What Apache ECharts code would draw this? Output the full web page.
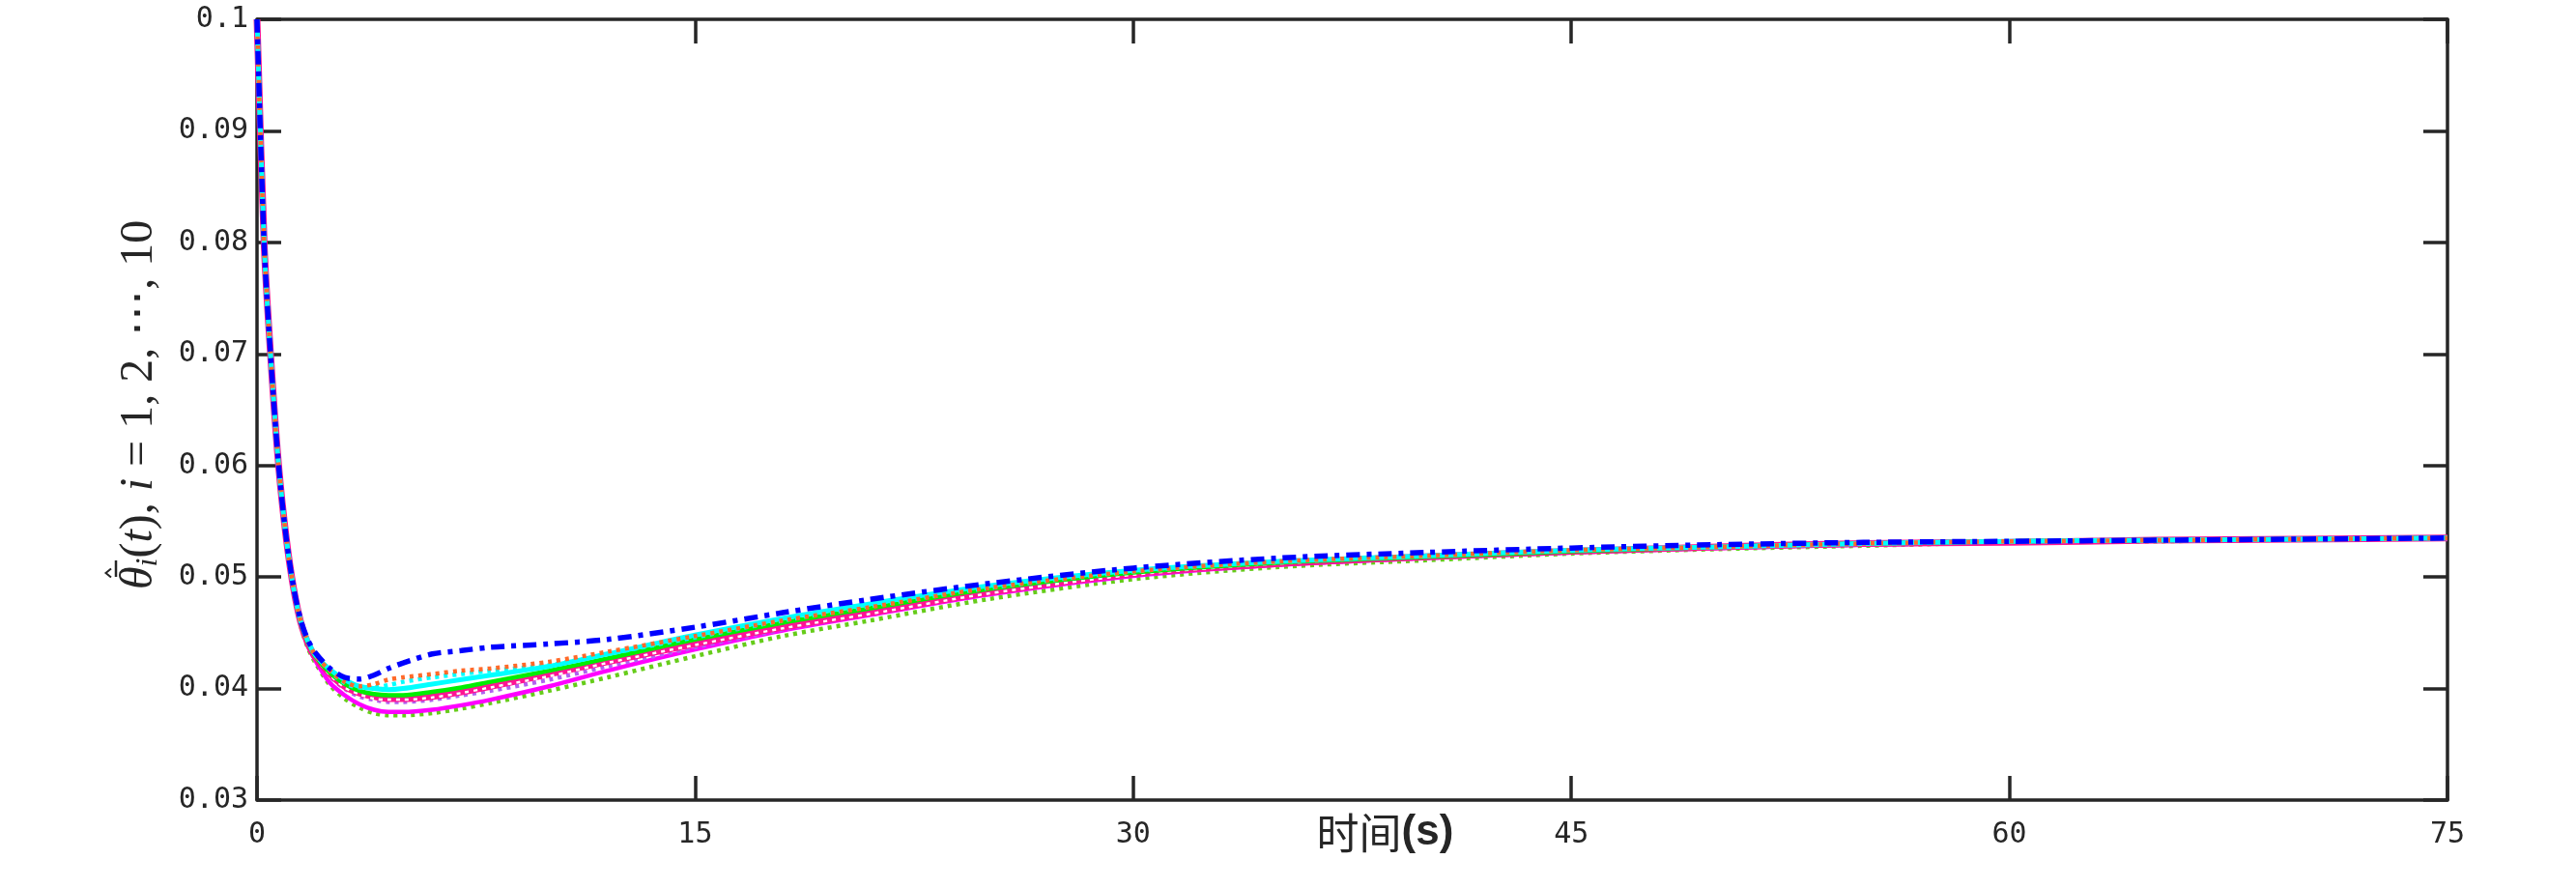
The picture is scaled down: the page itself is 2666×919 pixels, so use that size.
<!DOCTYPE html>
<html>
<head>
<meta charset="utf-8">
<script src="https://cdn.jsdelivr.net/npm/echarts@6/dist/echarts.min.js"></script>
<style>html,body{margin:0;padding:0;background:#fff}#c{width:2666px;height:919px}</style>
</head>
<body>
<div id="c"></div>
<script>
// time samples (s)
var t = [0, 0.25, 0.5, 0.75, 1, 1.25, 1.5, 1.75, 2, 2.5, 3, 3.5, 4, 4.5, 5, 6, 7, 8, 10, 12, 15, 18, 21, 25, 30, 35, 40, 45, 50, 55, 60, 65, 70, 75];
var xTicks = [0, 15, 30, 45, 60, 75];
var yTicks = [0.03, 0.04, 0.05, 0.06, 0.07, 0.08, 0.09, 0.1];

var blueDashDot = [0.1, 0.0795, 0.0685, 0.0597, 0.0535, 0.0491, 0.0461, 0.0443, 0.0432, 0.0418, 0.0410, 0.04085, 0.0412, 0.0418, 0.0423, 0.0431, 0.0434, 0.0437, 0.0440, 0.0444, 0.0455, 0.0468, 0.0480, 0.0494, 0.0508, 0.0517, 0.0522, 0.0526, 0.0529, 0.0531, 0.0532, 0.0533, 0.0534, 0.0535];
var orangeDot   = [0.1, 0.0795, 0.0685, 0.0597, 0.0535, 0.0490, 0.0460, 0.0442, 0.0430, 0.0416, 0.0406, 0.0402, 0.0404, 0.0408, 0.0410, 0.0413, 0.0416, 0.0418, 0.0424, 0.0433, 0.0447, 0.0461, 0.0473, 0.0490, 0.0505, 0.0514, 0.0519, 0.0524, 0.0527, 0.0530, 0.0532, 0.0533, 0.0534, 0.0535];
var cyanDot     = [0.1, 0.0795, 0.0685, 0.0597, 0.0535, 0.0490, 0.0460, 0.0442, 0.0430, 0.0416, 0.0405, 0.0401, 0.0401, 0.0403, 0.0406, 0.0410, 0.0413, 0.0416, 0.0421, 0.0431, 0.0446, 0.0461, 0.0474, 0.0490, 0.0505, 0.0514, 0.0519, 0.0524, 0.0527, 0.0530, 0.0532, 0.0533, 0.0534, 0.0535];
var cyanSolid   = [0.1, 0.0795, 0.0685, 0.0597, 0.0535, 0.0490, 0.0460, 0.0442, 0.0430, 0.0417, 0.0408, 0.0402, 0.0400, 0.0399, 0.0400, 0.0404, 0.0408, 0.0412, 0.0420, 0.0431, 0.0448, 0.0463, 0.0476, 0.0492, 0.0506, 0.0514, 0.0519, 0.0524, 0.0527, 0.0530, 0.0532, 0.0533, 0.0534, 0.0535];
var greenSolid  = [0.1, 0.0795, 0.0685, 0.0597, 0.0535, 0.0490, 0.0459, 0.0441, 0.0429, 0.0414, 0.0404, 0.0398, 0.0395, 0.0394, 0.0394, 0.0397, 0.0401, 0.0406, 0.0416, 0.0427, 0.0444, 0.0459, 0.0472, 0.0489, 0.0504, 0.0513, 0.0518, 0.0523, 0.0527, 0.0530, 0.0532, 0.0533, 0.0534, 0.0535];
var pinkSolid   = [0.1, 0.0795, 0.0685, 0.0597, 0.0535, 0.0490, 0.0459, 0.0440, 0.0428, 0.0413, 0.0402, 0.0396, 0.0393, 0.0391, 0.0391, 0.0393, 0.0397, 0.0402, 0.0413, 0.0424, 0.0440, 0.0455, 0.0468, 0.0486, 0.0503, 0.0512, 0.0518, 0.0523, 0.0527, 0.0530, 0.0531, 0.0533, 0.0534, 0.0535];
var whiteDot    = [0.1, 0.0795, 0.0685, 0.0597, 0.0535, 0.0490, 0.0459, 0.0440, 0.0428, 0.0412, 0.0401, 0.0395, 0.0391, 0.0390, 0.0390, 0.0392, 0.0396, 0.0401, 0.0411, 0.0423, 0.0439, 0.0454, 0.0467, 0.0485, 0.0502, 0.0512, 0.0518, 0.0523, 0.0527, 0.0530, 0.0531, 0.0533, 0.0534, 0.0535];
var purpleDot   = [0.1, 0.0795, 0.0685, 0.0597, 0.0535, 0.0490, 0.0459, 0.0439, 0.0427, 0.0411, 0.0400, 0.0393, 0.0390, 0.0388, 0.0388, 0.0390, 0.0394, 0.0398, 0.0408, 0.0420, 0.0437, 0.0453, 0.0467, 0.0485, 0.0502, 0.0511, 0.0517, 0.0522, 0.0526, 0.0529, 0.0531, 0.0533, 0.0534, 0.0535];
var magentaSolid= [0.1, 0.0795, 0.0685, 0.0597, 0.0535, 0.0489, 0.0457, 0.0438, 0.0425, 0.0405, 0.0394, 0.0386, 0.0381, 0.0379, 0.0379, 0.0381, 0.0385, 0.0390, 0.0402, 0.0416, 0.0435, 0.0452, 0.0466, 0.0484, 0.0501, 0.0511, 0.0517, 0.0522, 0.0526, 0.0529, 0.0531, 0.0533, 0.0534, 0.0535];
var ygDot       = [0.1, 0.0795, 0.0685, 0.0597, 0.0535, 0.0489, 0.0456, 0.0436, 0.0423, 0.0403, 0.0391, 0.0383, 0.0378, 0.0376, 0.0376, 0.0378, 0.0382, 0.0387, 0.0398, 0.0410, 0.0429, 0.0447, 0.0461, 0.0480, 0.0498, 0.0509, 0.0515, 0.0521, 0.0525, 0.0528, 0.0531, 0.0532, 0.0534, 0.0535];

function pts(arr){ return t.map(function(x,i){ return [x, arr[i]]; }); }
function mk(data, color, width, type){
  return { type:'line', data: pts(data), showSymbol:false, smooth:0.3,
    lineStyle:{ color:color, width:width, type:type, cap:'butt' }, emphasis:{disabled:true}, z:2 };
}
var axisColor = '#262626';
var tickFont = { fontFamily:'DejaVu Sans Mono', fontSize:30, color:axisColor };
function axisBase(){
  return {
    axisLine:{ show:true, onZero:false, lineStyle:{ color:axisColor, width:3.5 } },
    axisTick:{ show:true, inside:true, length:25, lineStyle:{ color:axisColor, width:3.5 } },
    splitLine:{ show:false }
  };
}
var yFont = 48;
var yLabelText = '{it|θ}{sub|i}{rm|(}{it|t}{rm|), }{it|i}{rm| = 1, 2, ⋯, 10}';

var chart = echarts.init(document.getElementById('c'), null, {renderer:'canvas'});
chart.setOption({
  animation:false,
  backgroundColor:'#fff',
  grid:{ left:266, right:133, top:20, bottom:91, containLabel:false },
  xAxis:[Object.assign(axisBase(), {
    type:'value', min:0, max:75, interval:15, position:'bottom',
    axisLabel:{ show:true, margin:21, fontFamily:tickFont.fontFamily, fontSize:tickFont.fontSize, color:axisColor, customValues: xTicks },
    name:'{a|时间}{b|(s)}', nameLocation:'middle', nameGap:12, nameMoveOverlap:false,
    nameTextStyle:{ padding:[0,0,0,68], verticalAlign:'top', rich:{
      a:{ fontFamily:'Noto Sans CJK SC', fontSize:44, color:axisColor },
      b:{ fontFamily:'Liberation Sans', fontWeight:'bold', fontSize:44, color:axisColor } } }
  }), Object.assign(axisBase(), {
    type:'value', min:0, max:75, interval:15, position:'top',
    axisLabel:{ show:false }
  })],
  yAxis:[Object.assign(axisBase(), {
    type:'value', min:0.03, max:0.1, interval:0.01, position:'left',
    axisLabel:{ show:true, margin:9, fontFamily:tickFont.fontFamily, fontSize:tickFont.fontSize, color:axisColor,
      customValues: yTicks,
      formatter:function(v){ return String(parseFloat(Number(v).toFixed(2))); } }
  }), Object.assign(axisBase(), {
    type:'value', min:0.03, max:0.1, interval:0.01, position:'right',
    axisLabel:{ show:false }
  })],
  graphic:[{
    type:'group', x:170, y:610, rotation:Math.PI/2, silent:true,
    children:[
      { type:'text', x:0, y:0, style:{ text:yLabelText, align:'left', verticalAlign:'bottom',
          rich:{
            it:{ fontFamily:'Liberation Serif', fontStyle:'italic', fontSize:yFont, fill:axisColor },
            rm:{ fontFamily:'Liberation Serif', fontSize:yFont, fill:axisColor },
            sub:{ fontFamily:'Liberation Serif', fontStyle:'italic', fontSize:32, fill:axisColor, verticalAlign:'bottom', padding:[20,0,0,0] }
          } } },
      { type:'line', shape:{ x1:13, y1:-50, x2:30, y2:-50 }, style:{ stroke:axisColor, lineWidth:2.5 } },
      { type:'polyline', shape:{ points:[[12.5,-55],[17,-60.5],[21.5,-55]] }, style:{ stroke:axisColor, lineWidth:2, fill:null } }
    ]
  }],
  series:[
    mk(ygDot, '#66CC1A', 4.5, [4,5]),
    mk(magentaSolid, '#FF00FF', 4.5, 'solid'),
    mk(purpleDot, '#B060F0', 4.5, [4,5]),
    mk(pinkSolid, '#FF1493', 7, 'solid'),
    mk(whiteDot, '#FFFFFF', 2.5, [4,5]),
    mk(greenSolid, '#00EE00', 4.5, 'solid'),
    mk(cyanSolid, '#00FFFF', 5, 'solid'),
    mk(cyanDot, '#00FFFF', 4.5, [4,5]),
    mk(orangeDot, '#FF6A2A', 4.5, [4,5]),
    mk(blueDashDot, '#0000FF', 5.5, [14,7,5,7])
  ]
});
</script>
</body>
</html>
